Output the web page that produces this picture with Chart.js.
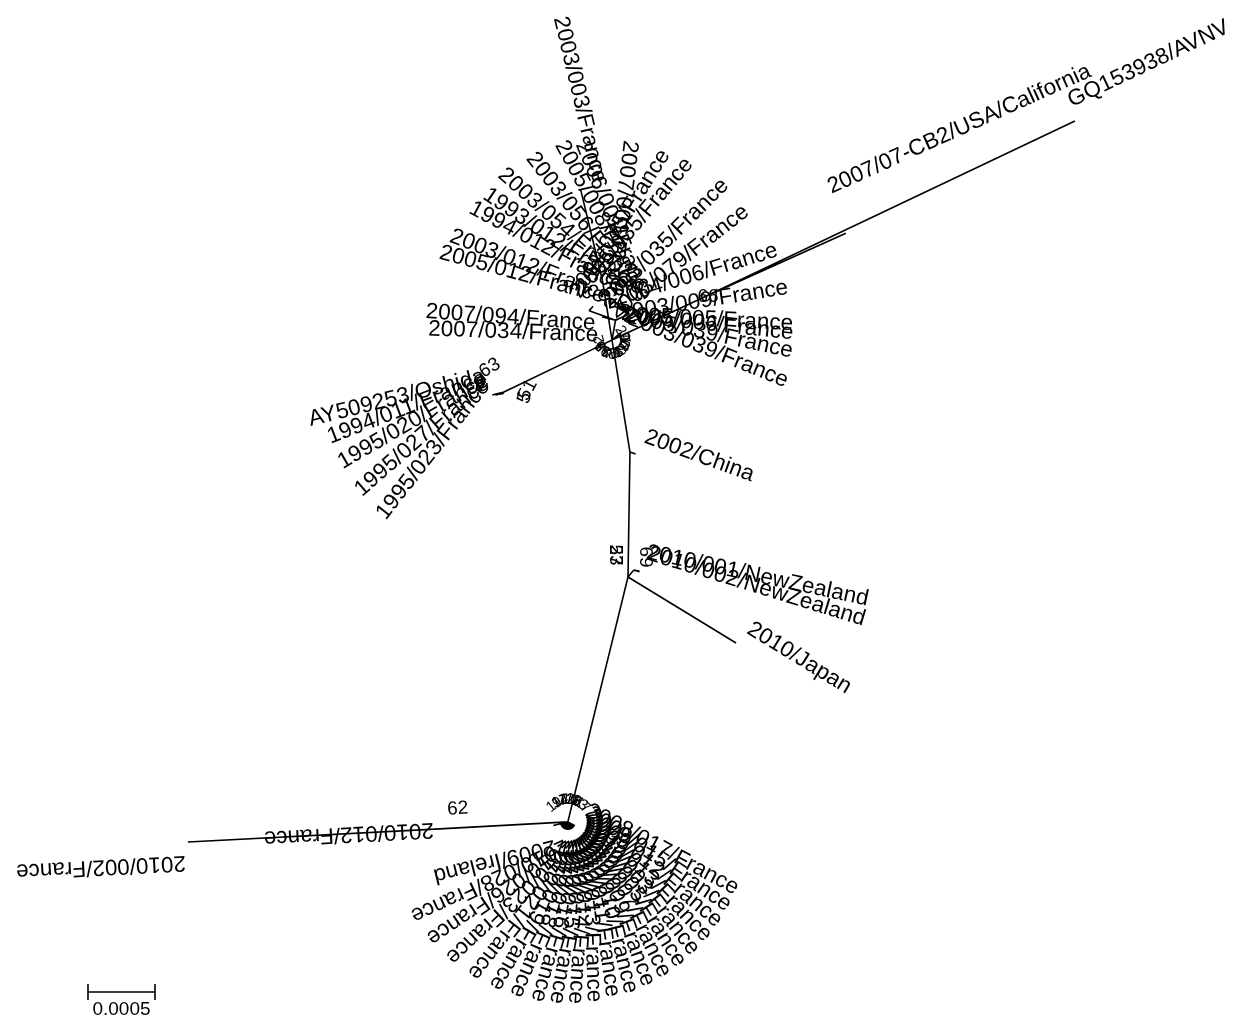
<!DOCTYPE html>
<html>
<head>
<meta charset="utf-8">
<script src="https://cdn.jsdelivr.net/npm/chart.js@4.4.0/dist/chart.umd.min.js"></script>
<style>
  html, body { margin: 0; padding: 0; background: #fff; }
  canvas { display: block; }
</style>
</head>
<body>
<canvas id="tree" width="1242" height="1022"></canvas>
<script>
// Unrooted tree. Layout frame: 1 unit = 1 px at this size, angles clockwise from east.
const ROOT = { id: 'D', x: 628, y: 577 };

// internal nodes: [id, parent, branch length, angle]
const internalNodes = [
  ['C', 'D', 125, -89.1],
  ['B', 'C', 113.4, -99.1],
  ['T0', 'B', 60, -99.1],
  ['T1', 'B', 20, -80],
  ['T2', 'T1', 15, -25],
  ['T3', 'T1', 28, 200],
  ['T4', 'B', 8, -40],
  ['K', 'B', 10, 154.3],
  ['K2', 'K', 15, 154.3],
  ['L', 'K2', 95, 154.3],
  ['F', 'B', 97.1, -25],
  ['N', 'D', 9, -50],
  ['E', 'D', 252.2, 103.8],
  ['E2', 'E', 128.2, 176.9]
];

// tips: [label, parent, branch length, angle]
const backboneTips = [
  ['GQ153938/AVNV', 'F', 415, -25.4],
  ['2007/07-CB2/USA/California', 'F', 160, -24.3],
  ['2002/China', 'C', 6, 20],
  ['2010/001/NewZealand', 'N', 6, 12],
  ['2010/002/NewZealand', 'N', 6, 17],
  ['2010/Japan', 'D', 126.6, 31.4]
];

const topRightTips = [
  ['2007/075/France', 'T3', 2, -58],
  ['2005/035/France', 'T3', 6, -50],
  ['2003/035/France', 'T1', 2, -45],
  ['2004/006/France', 'T1', 2, -17],
  ['2003/079/France', 'T4', 5, -38],
  ['2003/009/France', 'T4', 2, -9],
  ['2005/005/France', 'T4', 1, 3],
  ['2005/006/France', 'T4', 1, 6],
  ['2005/039/France', 'T4', 1, 12],
  ['2003/039/France', 'T4', 1, 22]
];

const topLeftTips = [
  ['2005/012/France', 'T1', 14, 195],
  ['2003/012/France', 'T1', 11, 201],
  ['1994/012/France', 'T2', 17, 208],
  ['1993/012/France', 'T2', 14, 214],
  ['2003/054/France', 'T2', 17, 222],
  ['2003/056/France', 'T2', 13, 232],
  ['2005/008/France', 'T2', 11, 242],
  ['2006/001/France', 'T2', 4, 248],
  ['2003/003/France', 'T0', 93.5, 256.5],
  ['2007/001/France', 'T3', 1, 277],
  ['2007/094/France', 'K', 6, 184],
  ['2007/034/France', 'K', 2, 182]
];

const leftTips = [
  ['AY509253/Oshida', 'L', 12, 166],
  ['1994/011/France', 'L', 9, 159],
  ['1995/020/France', 'L', 5, 150],
  ['1995/027/France', 'L', 3, 139],
  ['1995/023/France', 'L', 1, 128]
];

const bottomTips = [
  ['2010/012/France', 'E2', 3, 177],
  ['2010/002/France', 'E2', 252.3, 177],
  ['2008/017/France', 'E', 8, 28],
  ['2009/015/France', 'E', 8, 34],
  ['2009/012/France', 'E', 8, 40],
  ['2009/013/France', 'E', 8, 46],
  ['2010/003/France', 'E', 8, 52],
  ['2010/005/France', 'E', 8, 58],
  ['2010/007/France', 'E', 8, 64],
  ['2010/009/France', 'E', 8, 70],
  ['2010/010/France', 'E', 8, 76],
  ['2010/011/France', 'E', 8, 82],
  ['2010/013/France', 'E', 8, 88],
  ['2010/014/France', 'E', 8, 94],
  ['2010/015/France', 'E', 8, 100],
  ['2010/016/France', 'E', 8, 106],
  ['2010/018/France', 'E', 8, 113],
  ['2010/019/France', 'E', 8, 120],
  ['2010/021/France', 'E', 8, 128],
  ['2010/023/France', 'E', 8, 137],
  ['2010/026/France', 'E', 8, 146],
  ['2010/028/France', 'E', 8, 155],
  ['2009/Ireland', 'E', 15, 166]
];

// bootstrap values: [node, value]
const supportValues = [
  ['L', '63'], ['L', '51'], ['L', '5'], ['F', '66'],
  ['E2', '62'], ['D', '27'], ['D', '53'], ['D', '69']
];
// small unreadable bootstrap values piled up at the two crowded nodes
const topMinorSupport = [12, 8, 15, 9, 21, 14, 11, 7, 18, 10, 13, 16, 9, 20];
const bottomMinorSupport = [11, 9, 14, 7, 12, 10, 16, 8, 13, 17];

const SCALE_BAR_VALUE = 0.0005;
const SCALE_BAR_UNITS = 67;   // tree units for 0.0005 subst./site

// ---- style ----
const FONT = '"Liberation Sans", Arial, Helvetica, sans-serif';
const LABEL_SIZE = 22.5;
const SUPPORT_SIZE = 19;
const LABEL_GAP = 3;
const LABEL_LIFT = 20;
const LIFT_OVERRIDE = {
  '2007/07-CB2/USA/California': 48,
  '2010/012/France': 0,
  '2007/034/France': 9
};
const UPRIGHT_CLADE = 'E';    // labels under this node keep the raw branch angle
// [dx, dy, rotation] for each support value
const SUPPORT_PLACE = [
  [-14, -24, -30], [24, -2, -62], [21, 6, -70], [8, -2, 0],
  [18, -20, -3], [-13, -22, 90], [-13, -22, 90], [17, -20, 90]
];
const TOP_BLOB = { node: 'B', r: 12, from: 165, to: -30 };
const BOTTOM_BLOB = { node: 'E', r: 22, from: -128, to: -50 };
const SCALE_BAR_AT = { x: 88, y: 992 };

// ---- layout ----
const pos = { [ROOT.id]: { x: ROOT.x, y: ROOT.y, parent: null } };
function place(id, parent, len, ang) {
  const p = pos[parent];
  const r = ang * Math.PI / 180;
  pos[id] = { x: p.x + len * Math.cos(r), y: p.y + len * Math.sin(r), parent };
}
internalNodes.forEach(n => place(...n));
const allTips = [...backboneTips, ...topRightTips, ...topLeftTips, ...leftTips, ...bottomTips];
allTips.forEach(t => place(...t));

const edgePoints = [];
Object.keys(pos).forEach(id => {
  const n = pos[id];
  if (!n.parent) return;
  const p = pos[n.parent];
  edgePoints.push({ x: p.x, y: p.y }, { x: n.x, y: n.y }, { x: NaN, y: NaN });
});

function inClade(id, clade) {
  let cur = id;
  while (cur) {
    if (cur === clade) return true;
    cur = pos[cur].parent;
  }
  return false;
}

const treeText = {
  id: 'treeText',
  afterDatasetsDraw(chart) {
    const ctx = chart.ctx;
    const xs = chart.scales.x, ys = chart.scales.y;
    const px = id => ({ x: xs.getPixelForValue(pos[id].x), y: ys.getPixelForValue(pos[id].y) });
    ctx.save();
    ctx.fillStyle = '#000';
    ctx.textBaseline = 'middle';

    // tip labels
    ctx.font = LABEL_SIZE + 'px ' + FONT;
    allTips.forEach(([name, , , ang]) => {
      const p = px(name);
      const r = ang * Math.PI / 180;
      let a = ((ang + 180) % 360 + 360) % 360 - 180;
      const flip = !inClade(name, UPRIGHT_CLADE) && (a <= -75 || a >= 95);
      const lift = LIFT_OVERRIDE[name] !== undefined ? LIFT_OVERRIDE[name] : LABEL_LIFT;
      ctx.save();
      ctx.translate(p.x + LABEL_GAP * Math.cos(r), p.y + LABEL_GAP * Math.sin(r));
      ctx.rotate(flip ? r + Math.PI : r);
      ctx.textAlign = flip ? 'right' : 'left';
      ctx.fillText(name, 0, -lift);
      ctx.restore();
    });

    // bootstrap values
    ctx.font = SUPPORT_SIZE + 'px ' + FONT;
    ctx.textAlign = 'center';
    supportValues.forEach(([node, val], i) => {
      const p = px(node);
      const [dx, dy, rot] = SUPPORT_PLACE[i];
      ctx.save();
      ctx.translate(p.x + dx, p.y + dy);
      ctx.rotate(rot * Math.PI / 180);
      ctx.fillText(val, 0, 0);
      ctx.restore();
    });

    ctx.font = '15px ' + FONT;
    [[TOP_BLOB, topMinorSupport], [BOTTOM_BLOB, bottomMinorSupport]].forEach(([blob, vals]) => {
      const c = px(blob.node);
      vals.forEach((v, i) => {
        const a = (blob.from + (blob.to - blob.from) * i / (vals.length - 1)) * Math.PI / 180;
        ctx.save();
        ctx.translate(c.x + blob.r * Math.cos(a), c.y + blob.r * Math.sin(a));
        ctx.rotate(a + Math.PI / 2);
        ctx.fillText(String(v), 0, 0);
        ctx.restore();
      });
    });

    // scale bar
    const x0 = xs.getPixelForValue(SCALE_BAR_AT.x);
    const x1 = xs.getPixelForValue(SCALE_BAR_AT.x + SCALE_BAR_UNITS);
    const y0 = ys.getPixelForValue(SCALE_BAR_AT.y);
    ctx.strokeStyle = '#000';
    ctx.lineWidth = 1.6;
    ctx.beginPath();
    ctx.moveTo(x0, y0); ctx.lineTo(x1, y0);
    ctx.moveTo(x0, y0 - 8); ctx.lineTo(x0, y0 + 8);
    ctx.moveTo(x1, y0 - 8); ctx.lineTo(x1, y0 + 8);
    ctx.stroke();
    ctx.font = '19px ' + FONT;
    ctx.textAlign = 'center';
    ctx.textBaseline = 'top';
    ctx.fillText(String(SCALE_BAR_VALUE), (x0 + x1) / 2, y0 + 8);
    ctx.restore();
  }
};

new Chart(document.getElementById('tree').getContext('2d'), {
  type: 'scatter',
  data: {
    datasets: [{
      data: edgePoints,
      showLine: true,
      spanGaps: false,
      borderColor: '#000',
      borderWidth: 1.6,
      pointRadius: 0,
      pointHoverRadius: 0,
      tension: 0
    }]
  },
  options: {
    responsive: false,
    animation: false,
    layout: { padding: 0 },
    scales: {
      x: { type: 'linear', min: 0, max: 1242, display: false },
      y: { type: 'linear', min: 0, max: 1022, reverse: true, display: false }
    },
    plugins: {
      legend: { display: false },
      tooltip: { enabled: false }
    }
  },
  plugins: [treeText]
});
</script>
</body>
</html>
